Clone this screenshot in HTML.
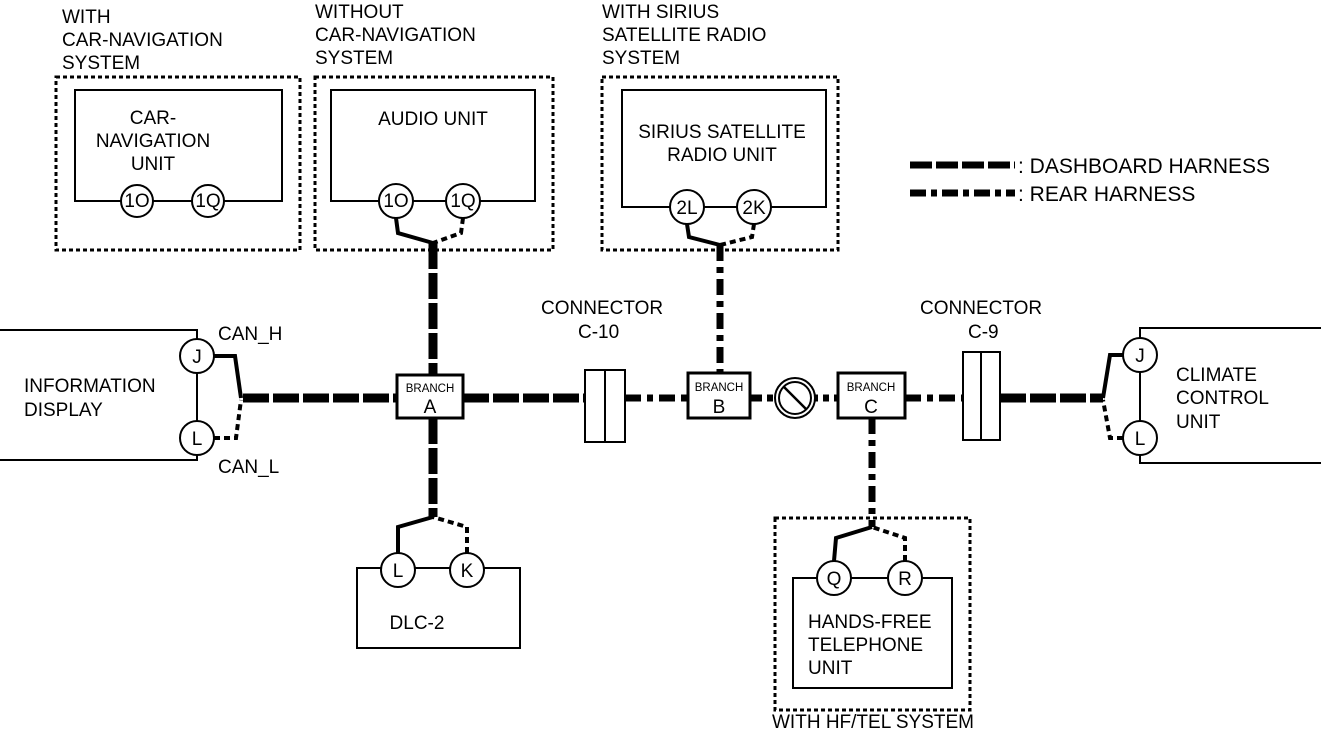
<!DOCTYPE html>
<html><head><meta charset="utf-8"><style>
html,body{margin:0;padding:0;background:#fff}
svg{display:block}
text{font-family:"Liberation Sans",Arial,sans-serif;font-size:19px;fill:#000}
.s{font-size:11.5px}
.lg{font-size:21px}
</style></head><body>
<svg width="1321" height="734" viewBox="0 0 1321 734">
<g fill="none" stroke="#000">
<g stroke-width="3" stroke-dasharray="4,3">
<rect x="56" y="77" width="244" height="173"/>
<rect x="315" y="77" width="238" height="173"/>
<rect x="602" y="77" width="236" height="173"/>
<rect x="775" y="518" width="195" height="192"/>
</g>
<g stroke-width="2">
<rect x="75" y="90" width="207" height="111"/>
<rect x="331" y="90" width="204" height="111"/>
<rect x="622" y="90" width="204" height="117"/>
<rect x="-2" y="330" width="199" height="130"/>
<rect x="1140" y="328" width="183" height="135"/>
<rect x="357" y="568" width="163" height="80"/>
<rect x="793" y="578" width="159" height="110"/>
</g>
<line x1="910" y1="165" x2="1015" y2="165" stroke-width="7" stroke-dasharray="22,4"/>
<line x1="910" y1="193" x2="1015" y2="193" stroke-width="7" stroke-dasharray="16,5,6,5"/>
<line x1="243" y1="398" x2="397" y2="398" stroke-width="9" stroke-dasharray="26,4"/>
<line x1="463" y1="398" x2="585" y2="398" stroke-width="9" stroke-dasharray="26,4"/>
<line x1="625" y1="398" x2="688" y2="398" stroke-width="7" stroke-dasharray="16,6,6,6"/>
<line x1="750" y1="398" x2="838" y2="398" stroke-width="7" stroke-dasharray="12,5,6,5"/>
<line x1="905" y1="398" x2="963" y2="398" stroke-width="7" stroke-dasharray="16,6,6,6"/>
<line x1="1000" y1="398" x2="1103" y2="398" stroke-width="9" stroke-dasharray="26,4"/>
<polyline points="214,356 235,356 241,398" stroke-width="4"/>
<polyline points="214,438 236,438 241,400" stroke-width="4" stroke-dasharray="6,4"/>
<polyline points="1123,355 1110,355 1103,398" stroke-width="4"/>
<polyline points="1123,438 1110,438 1103,400" stroke-width="4" stroke-dasharray="6,4"/>
<line x1="433" y1="243" x2="433" y2="375" stroke-width="9" stroke-dasharray="26,4"/>
<line x1="433" y1="418" x2="433" y2="517" stroke-width="9" stroke-dasharray="26,4"/>
<polyline points="396,218 398,233 433,243" stroke-width="4"/>
<polyline points="463,218 461,233 433,243" stroke-width="4" stroke-dasharray="6,4"/>
<polyline points="398,553 398,527 433,517" stroke-width="4"/>
<polyline points="467,553 467,527 433,517" stroke-width="4" stroke-dasharray="6,4"/>
<line x1="720" y1="245" x2="720" y2="373" stroke-width="7" stroke-dasharray="16,6,6,6"/>
<polyline points="687,224 689,237 720,245" stroke-width="4"/>
<polyline points="754,224 752,237 720,245" stroke-width="4" stroke-dasharray="6,4"/>
<line x1="872" y1="418" x2="872" y2="527" stroke-width="7" stroke-dasharray="16,6,6,6"/>
<polyline points="834,561 836,538 872,527" stroke-width="4"/>
<polyline points="905,561 905,538 872,527" stroke-width="4" stroke-dasharray="6,4"/>
<g stroke-width="2" fill="#fff">
<rect x="585" y="370" width="40" height="72"/>
<line x1="605" y1="370" x2="605" y2="442"/>
<rect x="963" y="352" width="37" height="88"/>
<line x1="981" y1="352" x2="981" y2="440"/>
<rect x="397" y="375" width="66" height="43" stroke-width="3"/>
<rect x="688" y="373" width="62" height="45" stroke-width="3"/>
<rect x="838" y="373" width="67" height="45" stroke-width="3"/>
</g>
<circle cx="795" cy="398" r="20" fill="#fff" stroke-width="2"/>
<circle cx="795" cy="398" r="16" stroke-width="2"/>
<line x1="784" y1="387" x2="806" y2="409" stroke-width="2.5"/>
<g stroke-width="2" fill="#fff">
<circle cx="137" cy="201" r="16"/><circle cx="208" cy="201" r="16"/>
<circle cx="396" cy="201" r="17"/><circle cx="463" cy="201" r="17"/>
<circle cx="687" cy="207" r="17"/><circle cx="754" cy="207" r="17"/>
<circle cx="197" cy="356" r="17"/><circle cx="197" cy="438" r="17"/>
<circle cx="1140" cy="355" r="17"/><circle cx="1140" cy="438" r="17"/>
<circle cx="398" cy="570" r="17"/><circle cx="467" cy="570" r="17"/>
<circle cx="834" cy="578" r="17"/><circle cx="905" cy="578" r="17"/>
</g>
</g>
<g text-anchor="middle">
<text x="137" y="207">1O</text><text x="208" y="207">1Q</text>
<text x="396" y="207">1O</text><text x="463" y="207">1Q</text>
<text x="687" y="214">2L</text><text x="754" y="214">2K</text>
<text x="197" y="363">J</text><text x="197" y="445">L</text>
<text x="1140" y="362">J</text><text x="1140" y="445">L</text>
<text x="398" y="577">L</text><text x="467" y="577">K</text>
<text x="834" y="585">Q</text><text x="905" y="585">R</text>
<text class="s" x="430" y="392">BRANCH</text><text x="430" y="413">A</text>
<text class="s" x="719" y="391">BRANCH</text><text x="719" y="413">B</text>
<text class="s" x="871" y="391">BRANCH</text><text x="871" y="413">C</text>
<text x="153" y="124">CAR-</text><text x="153" y="147">NAVIGATION</text><text x="153" y="170">UNIT</text>
<text x="433" y="125">AUDIO UNIT</text>
<text x="722" y="138">SIRIUS SATELLITE</text><text x="722" y="161">RADIO UNIT</text>
<text x="417" y="629">DLC-2</text>
</g>
<text x="62" y="23">WITH</text><text x="62" y="46">CAR-NAVIGATION</text><text x="62" y="69">SYSTEM</text>
<text x="315" y="18">WITHOUT</text><text x="315" y="41">CAR-NAVIGATION</text><text x="315" y="64">SYSTEM</text>
<text x="602" y="18">WITH SIRIUS</text><text x="602" y="41">SATELLITE RADIO</text><text x="602" y="64">SYSTEM</text>
<text class="lg" x="1018" y="173">: DASHBOARD HARNESS</text>
<text class="lg" x="1018" y="201">: REAR HARNESS</text>
<text x="24" y="392">INFORMATION</text><text x="24" y="416">DISPLAY</text>
<text x="218" y="340">CAN_H</text><text x="218" y="473">CAN_L</text>
<text x="541" y="314">CONNECTOR</text><text x="578" y="338">C-10</text>
<text x="920" y="314">CONNECTOR</text><text x="968" y="338">C-9</text>
<text x="1176" y="381">CLIMATE</text><text x="1176" y="404">CONTROL</text><text x="1176" y="428">UNIT</text>
<text x="808" y="628">HANDS-FREE</text><text x="808" y="651">TELEPHONE</text><text x="808" y="674">UNIT</text>
<text x="772" y="728">WITH HF/TEL SYSTEM</text>
</svg>
</body></html>
